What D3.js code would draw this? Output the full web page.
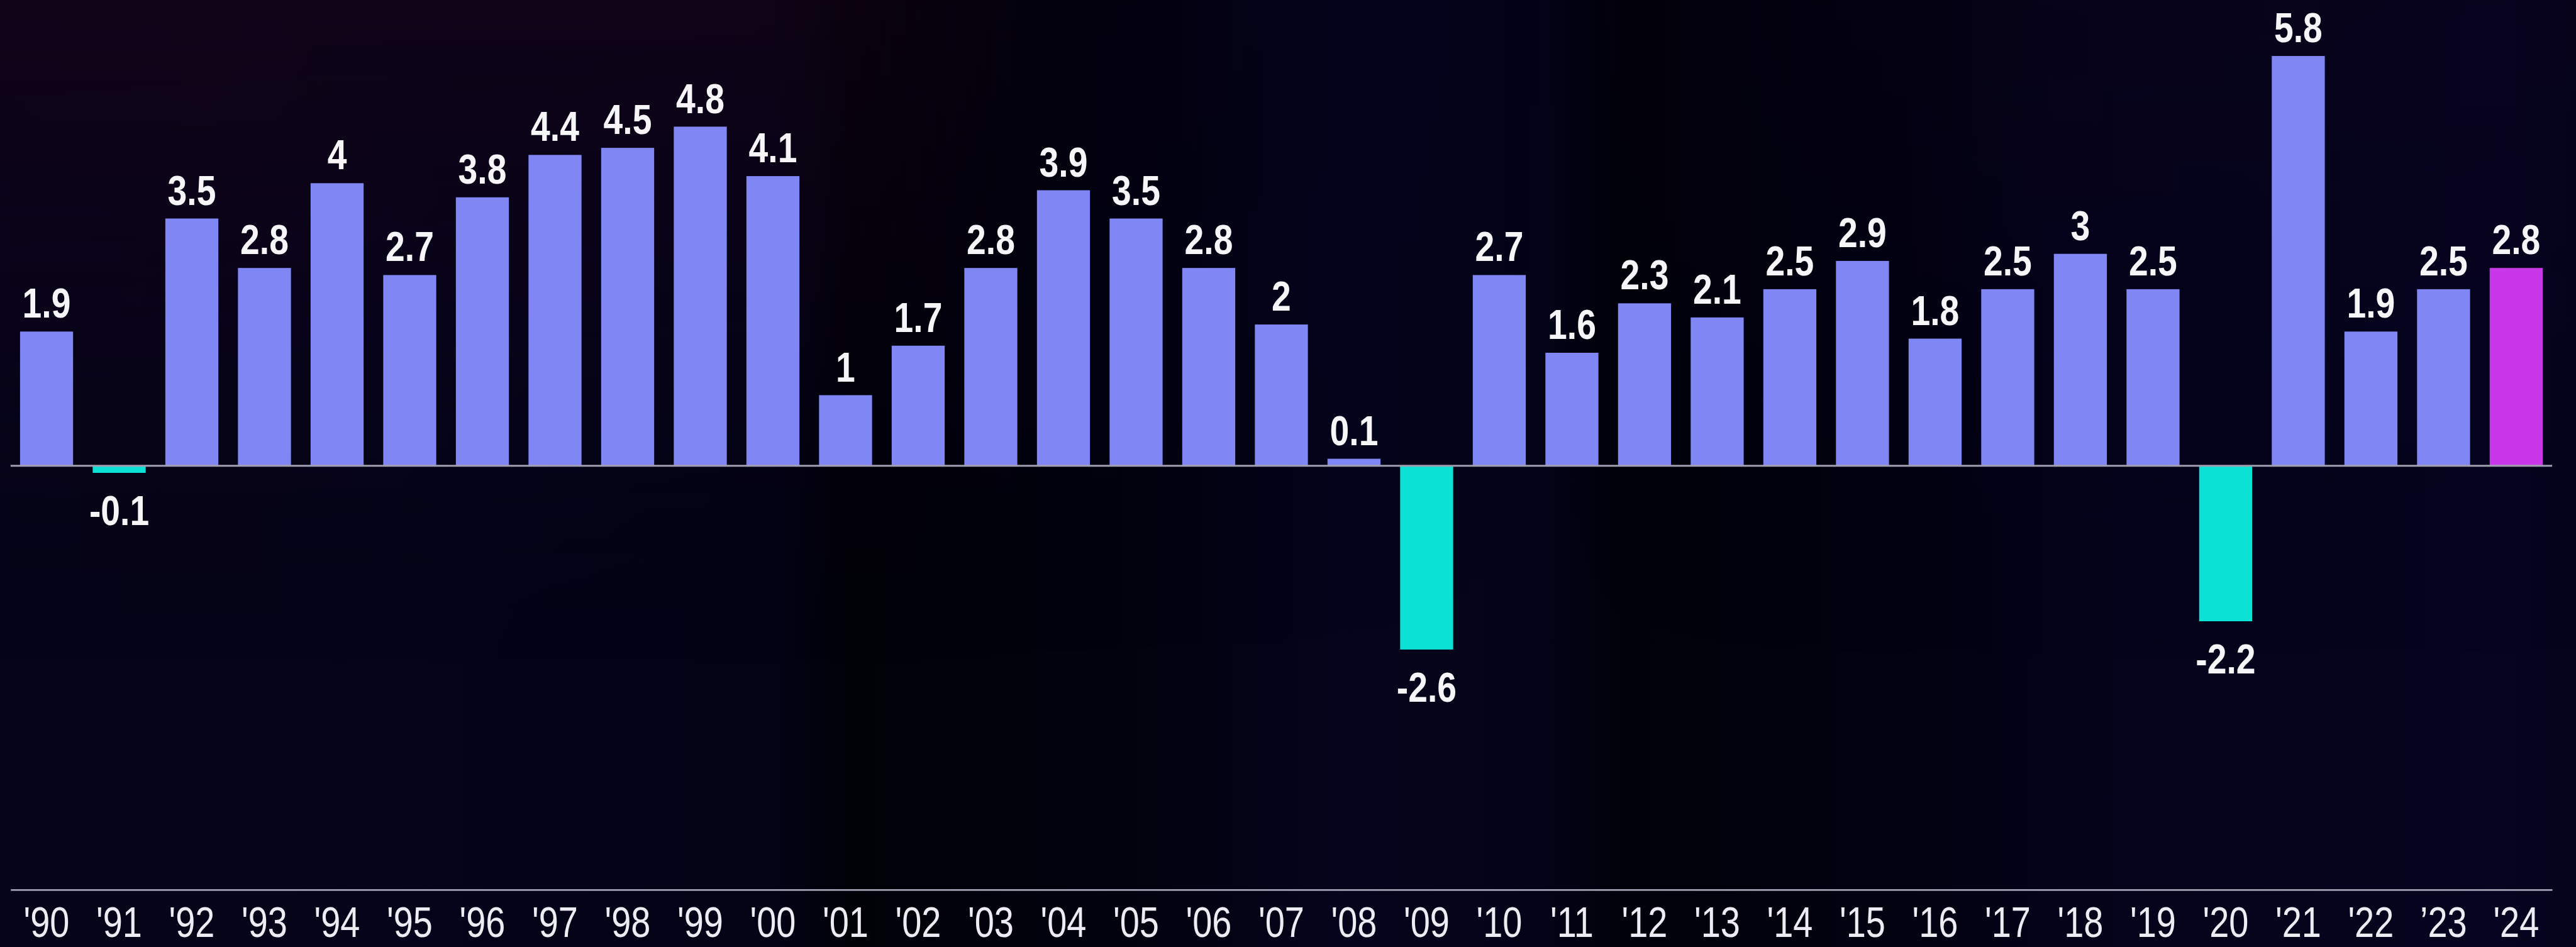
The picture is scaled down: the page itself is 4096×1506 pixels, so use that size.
<!DOCTYPE html>
<html>
<head>
<meta charset="utf-8">
<script src="https://cdn.jsdelivr.net/npm/d3@7"></script>
<style>
  html, body { margin: 0; padding: 0; background: #03031a; overflow: hidden; }
  svg { display: block; }
  .lbl { font-family: "Liberation Sans", Arial, sans-serif; }
</style>
</head>
<body>
<svg id="chart"></svg>
<script>
// Annual real GDP growth, percent
const years = ["'90","'91","'92","'93","'94","'95","'96","'97","'98","'99",
               "'00","'01","'02","'03","'04","'05","'06","'07","'08","'09",
               "'10","'11","'12","'13","'14","'15","'16","'17","'18","'19",
               "'20","'21","'22","’23","'24"];
const growth = [1.9, -0.1, 3.5, 2.8, 4, 2.7, 3.8, 4.4, 4.5, 4.8,
                4.1, 1, 1.7, 2.8, 3.9, 3.5, 2.8, 2, 0.1, -2.6,
                2.7, 1.6, 2.3, 2.1, 2.5, 2.9, 1.8, 2.5, 3, 2.5,
                -2.2, 5.8, 1.9, 2.5, 2.8];
const highlightYear = "'24";
const yDomain = [-6, 6];

const W = 4860, H = 1787;           // drawing units
const NARROW = 0.82;                // horizontal squeeze for condensed lettering

const svg = d3.select("#chart")
  .attr("width", 4096).attr("height", 1506)
  .attr("viewBox", `0 0 ${W} ${H}`)
  .attr("preserveAspectRatio", "none");

const data = years.map((y, i) => ({ year: y, value: growth[i] }));

// Background: dark navy with faint vertical banding and a plum tint top-left
const defs = svg.append("defs");
const bg = defs.append("linearGradient").attr("id", "bgH").attr("x1", 0).attr("x2", 1).attr("y1", 0).attr("y2", 0);
[[0, "#05041a"], [0.08, "#060418"], [0.15, "#04041a"], [0.3, "#030316"], [0.33, "#010108"],
 [0.45, "#020210"], [0.52, "#04041c"], [0.6, "#030318"], [0.63, "#01010a"], [0.75, "#020212"],
 [0.8, "#03031a"], [0.9, "#04041c"], [0.97, "#060420"], [1, "#04041c"]]
  .forEach(([o, c]) => bg.append("stop").attr("offset", o).attr("stop-color", c));
const tint = defs.append("linearGradient").attr("id", "bgV").attr("x1", 0).attr("x2", 0).attr("y1", 0).attr("y2", 1);
[[0, "#1a0418", 0.6], [0.35, "#12031a", 0.28], [0.7, "#000000", 0]]
  .forEach(([o, c, a]) => tint.append("stop").attr("offset", o).attr("stop-color", c).attr("stop-opacity", a));
const tintH = defs.append("linearGradient").attr("id", "bgMask").attr("x1", 0).attr("x2", 1).attr("y1", 0).attr("y2", 0);
[[0, 1], [0.3, 0.9], [0.4, 0.2], [0.6, 0], [0.8, 0.3], [1, 0.2]]
  .forEach(([o, a]) => tintH.append("stop").attr("offset", o).attr("stop-color", "#fff").attr("stop-opacity", a));
defs.append("mask").attr("id", "tintMask")
  .append("rect").attr("width", W).attr("height", H).attr("fill", "url(#bgMask)");

svg.append("rect").attr("width", W).attr("height", H).attr("fill", "url(#bgH)");
svg.append("rect").attr("width", W).attr("height", H).attr("fill", "url(#bgV)").attr("mask", "url(#tintMask)");

// Scales
const x = d3.scaleBand()
  .domain(years)
  .range([20, 4815])
  .paddingInner(0.27)
  .paddingOuter(0.13);

const y = d3.scaleLinear().domain(yDomain).range([1679, 79]);

const colorFor = d => d.year === highlightYear ? "#c838e8" : (d.value < 0 ? "#0be2d5" : "#8086f4");

// Bars
svg.append("g").selectAll("rect")
  .data(data)
  .join("rect")
  .attr("x", d => x(d.year))
  .attr("width", x.bandwidth())
  .attr("y", d => y(Math.max(0, d.value)))
  .attr("height", d => Math.abs(y(d.value) - y(0)))
  .attr("fill", colorFor);

// Zero line
svg.append("line")
  .attr("x1", x.range()[0]).attr("x2", x.range()[1])
  .attr("y1", y(0)).attr("y2", y(0))
  .attr("stroke", "#a09eb0").attr("stroke-width", 3.4);

// Value labels above positive bars, below negative ones
svg.append("g").selectAll("text")
  .data(data)
  .join("text")
  .attr("class", "lbl")
  .attr("transform", d => {
    const cx = x(d.year) + x.bandwidth() / 2;
    const by = d.value >= 0 ? y(d.value) - 26 : y(d.value) + 99;
    return `translate(${cx},${by}) scale(${NARROW},1)`;
  })
  .attr("text-anchor", "middle")
  .attr("font-size", 80)
  .attr("font-weight", 700)
  .attr("fill", "#f6f6f8")
  .text(d => String(d.value));

// Year axis along the bottom
const axis = svg.append("g")
  .attr("transform", `translate(0,${y(yDomain[0])})`)
  .call(d3.axisBottom(x).tickSize(0).tickSizeOuter(0).tickPadding(32));
axis.attr("font-family", null).attr("font-size", null);
axis.select(".domain").attr("stroke", "#a09eb0").attr("stroke-width", 3.4);
axis.selectAll("text")
  .attr("class", "lbl")
  .attr("transform", `scale(${NARROW},1)`)
  .attr("font-size", 81)
  .attr("font-weight", 400)
  .attr("fill", "#ececf2");
</script>
</body>
</html>
